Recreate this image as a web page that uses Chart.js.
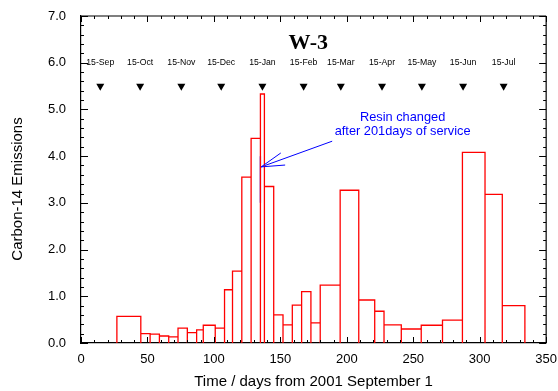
<!DOCTYPE html>
<html>
<head>
<meta charset="utf-8">
<script src="https://cdn.jsdelivr.net/npm/chart.js@4.4.1/dist/chart.umd.min.js"></script>
<style>
  html, body { margin: 0; padding: 0; background: #fff; }
  #chart { display: block; }
</style>
</head>
<body>
<canvas id="chart" width="558" height="391"></canvas>
<script>
// bin edges (days from 2001 Sep 1) and the C-14 value of each bin
const binEdges = [27, 45, 52, 59, 66, 73, 80, 87, 92, 101, 108, 114, 121, 128, 135, 138,
                  145, 152, 159, 166, 173, 180, 195, 209, 221, 228, 241, 256, 272, 287, 304, 317, 334];
const emissions = [0.57, 0.20, 0.19, 0.15, 0.13, 0.32, 0.22, 0.28, 0.38, 0.32, 1.14, 1.54,
                   3.55, 4.38, 5.33, 3.35, 0.60, 0.39, 0.81, 1.10, 0.43, 1.24, 3.27, 0.92,
                   0.68, 0.39, 0.30, 0.38, 0.49, 4.08, 3.18, 0.80];

// month markers along the top
const monthLabels = ['15-Sep', '15-Oct', '15-Nov', '15-Dec', '15-Jan', '15-Feb',
                     '15-Mar', '15-Apr', '15-May', '15-Jun', '15-Jul'];
const monthDays = [14.5, 44.5, 75.5, 105.5, 136.5, 167.5, 195.5, 226.5, 256.5, 287.5, 318];
const markerLevel = 5.5;
const monthLabelLevel = 6.0;

// resin change note
const resinDay = 135;
const resinSpan = [3.0, 4.0];
const arrowFrom = [189, 4.32];
const arrowTo = [135.6, 3.77];
const noteLines = ['Resin changed', 'after 201days of service'];
const notePos = [242, 4.83, 4.53];
const plotTitle = 'W-3';
const titlePos = [171, 6.29];

const xTickLabels = [0, 50, 100, 150, 200, 250, 300, 350];
const yTickLabels = [0, 1, 2, 3, 4, 5, 6, 7];

const FONT = '"Liberation Sans", Arial, sans-serif';

// build the outline of each bin as one stepped line
var outline = [];
for (var i = 0; i < emissions.length; i++) {
    outline.push({x: binEdges[i], y: 0});
    outline.push({x: binEdges[i], y: emissions[i]});
    outline.push({x: binEdges[i + 1], y: emissions[i]});
    outline.push({x: binEdges[i + 1], y: 0});
}
var markers = monthDays.map(function (d) { return {x: d, y: markerLevel}; });

// frame, inward ticks, labels and the note
const extrasPlugin = {
    id: 'extras',
    afterDatasetsDraw(chart) {
        const ctx = chart.ctx;
        const xs = chart.scales.x, ys = chart.scales.y;
        const a = chart.chartArea;
        ctx.save();
        ctx.strokeStyle = '#000';
        ctx.lineWidth = 1.2;
        ctx.beginPath();
        ctx.moveTo(a.left, a.top); ctx.lineTo(a.right, a.top);
        ctx.moveTo(a.right, a.top); ctx.lineTo(a.right, a.bottom);
        ctx.stroke();

        // ticks
        ctx.lineWidth = 1;
        ctx.beginPath();
        for (var d = 0; d <= 350; d += 10) {
            var px = Math.round(xs.getPixelForValue(d)) + 0.5;
            var len = d % 50 === 0 ? 6 : 3;
            ctx.moveTo(px, a.bottom); ctx.lineTo(px, a.bottom - len);
            ctx.moveTo(px, a.top); ctx.lineTo(px, a.top + len);
        }
        for (var k = 0; k <= 35; k++) {
            var py = Math.round(ys.getPixelForValue(k * 0.2)) + 0.5;
            var l2 = k % 5 === 0 ? 7 : 3;
            ctx.moveTo(a.left, py); ctx.lineTo(a.left + l2, py);
            ctx.moveTo(a.right, py); ctx.lineTo(a.right - l2, py);
        }
        ctx.stroke();

        // month labels
        ctx.fillStyle = '#000';
        ctx.font = '8.7px ' + FONT;
        ctx.textAlign = 'center';
        ctx.textBaseline = 'middle';
        monthLabels.forEach(function (t, j) {
            ctx.fillText(t, xs.getPixelForValue(monthDays[j]), ys.getPixelForValue(monthLabelLevel));
        });

        // plot title
        ctx.font = 'bold 22px "Liberation Serif", "Times New Roman", serif';
        ctx.textBaseline = 'alphabetic';
        ctx.fillText(plotTitle, xs.getPixelForValue(titlePos[0]), ys.getPixelForValue(titlePos[1]));

        // note
        ctx.fillStyle = '#0000ff';
        ctx.font = '12.8px ' + FONT;
        ctx.textBaseline = 'middle';
        ctx.fillText(noteLines[0], xs.getPixelForValue(notePos[0]), ys.getPixelForValue(notePos[1]));
        ctx.fillText(noteLines[1], xs.getPixelForValue(notePos[0]), ys.getPixelForValue(notePos[2]));

        // arrow head
        var tx = xs.getPixelForValue(arrowTo[0]), ty = ys.getPixelForValue(arrowTo[1]);
        var fx = xs.getPixelForValue(arrowFrom[0]), fy = ys.getPixelForValue(arrowFrom[1]);
        var ang = Math.atan2(fy - ty, fx - tx);
        ctx.strokeStyle = '#0000ff';
        ctx.lineWidth = 1;
        ctx.beginPath();
        [-0.27, 0.27].forEach(function (off) {
            ctx.moveTo(tx, ty);
            ctx.lineTo(tx + 24 * Math.cos(ang + off), ty + 24 * Math.sin(ang + off));
        });
        ctx.stroke();

        // y axis title
        ctx.fillStyle = '#000';
        ctx.font = '15px ' + FONT;
        ctx.translate(18, 189);
        ctx.rotate(-Math.PI / 2);
        ctx.textAlign = 'center';
        ctx.fillText('Carbon-14 Emissions', 0, 0);
        ctx.restore();
    }
};

var chartEl = document.getElementById('chart');
var c14Chart = new Chart(chartEl, {
    type: 'scatter',
    data: {
        datasets: [{
            data: outline,
            showLine: true,
            borderColor: '#ff0000',
            borderWidth: 1.3,
            pointRadius: 0,
            tension: 0
        }, {
            data: markers,
            pointStyle: 'triangle',
            rotation: 180,
            pointRadius: 4.6,
            backgroundColor: '#000',
            borderColor: '#000',
            borderWidth: 0
        }, {
            data: [{x: resinDay, y: resinSpan[0]}, {x: resinDay, y: resinSpan[1]}],
            showLine: true,
            borderColor: '#0000ff',
            borderWidth: 1.3,
            pointRadius: 0
        }, {
            data: [{x: arrowFrom[0], y: arrowFrom[1]}, {x: arrowTo[0], y: arrowTo[1]}],
            showLine: true,
            borderColor: '#0000ff',
            borderWidth: 1,
            pointRadius: 0
        }]
    },
    options: {
        responsive: false,
        animation: false,
        devicePixelRatio: 1,
        events: [],
        layout: { padding: { left: 0, right: 10, top: 16, bottom: 0 } },
        plugins: {
            legend: { display: false },
            tooltip: { enabled: false }
        },
        scales: {
            x: {
                type: 'linear',
                min: 0,
                max: 350,
                afterFit: function (s) { s.height = 48; },
                afterBuildTicks: function (s) { s.ticks = xTickLabels.map(function (v) { return {value: v}; }); },
                grid: { display: false },
                border: { display: true, color: '#000', width: 1.2 },
                ticks: { color: '#000', padding: 1, font: { size: 13, family: FONT } },
                title: {
                    display: true,
                    text: 'Time / days from 2001 September 1',
                    color: '#000',
                    padding: 0,
                    font: { size: 15, family: FONT }
                }
            },
            y: {
                min: 0,
                max: 7,
                afterFit: function (s) { s.width = 81; },
                afterBuildTicks: function (s) { s.ticks = yTickLabels.map(function (v) { return {value: v}; }); },
                grid: { display: false },
                border: { display: true, color: '#000', width: 1.2 },
                ticks: {
                    color: '#000',
                    padding: 7,
                    font: { size: 13, family: FONT },
                    callback: function (v) { return v.toFixed(1); }
                }
            }
        }
    },
    plugins: [extrasPlugin]
});
</script>
</body>
</html>
